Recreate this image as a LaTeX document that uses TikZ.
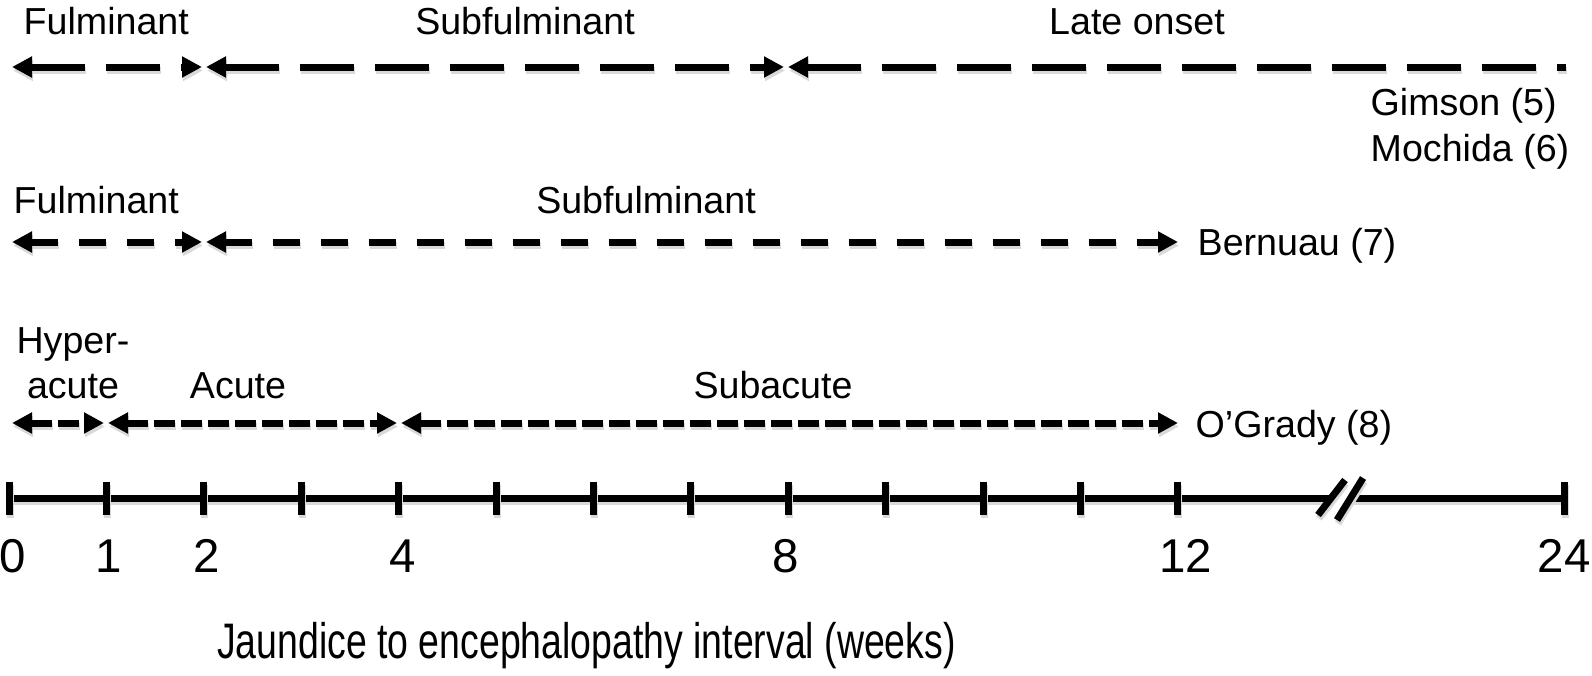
\documentclass[tikz,border=0pt]{standalone}
\usepackage{fontspec}
\setmainfont{Liberation Sans}
\usepackage{graphicx}
\usetikzlibrary{arrows.meta}

\begin{document}
\begin{tikzpicture}[
			x=1mm, y=1mm,
			every node/.style={inner sep=0pt, font=\fontsize{10.7}{12.8}\selectfont},
			seg/.style={line width=0.7mm, >={Triangle[length=2mm,width=2mm]},
					preaction={draw=black!15, line width=0.7mm, dash pattern=#1,
							transform canvas={shift={(0.1mm,-0.35mm)}}},
					dash pattern=#1},
			longdash/.style={seg={on 5.4mm off 2.1mm}},
			middash/.style={seg={on 2.7mm off 2.1mm}},
			shortdash/.style={seg={on 2.1mm off 0.6mm}},
			axisline/.style={line width=0.7mm,
					preaction={draw=black!15, line width=0.7mm,
							transform canvas={shift={(0.1mm,-0.35mm)}}}},
			tick/.style={font=\fontsize{13.5}{16}\selectfont, anchor=base}
		]
		\useasboundingbox (0,0) rectangle (159.2,67.5);

		% Gimson / Mochida
		\coordinate (a0) at (1.2,60.8);
		\coordinate (a2) at (20.4,60.8);
		\coordinate (a8) at (78.6,60.8);
		\coordinate (a24) at (156.6,60.8);
		\draw[longdash, <->, shorten >=0.2mm] (a0) -- (a2);
		\draw[longdash, <->, shorten <=0.2mm, shorten >=0.2mm] (a2) -- (a8);
		\draw[longdash, <-, shorten <=0.2mm] (a8) -- (a24);
		\node[anchor=base west] (fa) at (2.3,64.0) {Fulminant};
		\node[anchor=base] (sa) at (52.5,64.0) {Subfulminant};
		\node[anchor=base] (la) at (113.7,64.0) {Late onset};
		\node[anchor=base west] (gim) at (137.0,56.0) {Gimson (5)};
		\node[anchor=base west] (moc) at (137.0,51.4) {Mochida (6)};

		% Bernuau
		\coordinate (b0) at (1.2,43.3);
		\coordinate (b2) at (20.4,43.3);
		\coordinate (b12) at (117.8,43.3);
		\draw[middash, <->, shorten >=0.2mm] (b0) -- (b2);
		\draw[middash, <->, shorten <=0.2mm] (b2) -- (b12);
		\node[anchor=base west] (fb) at (1.3,46.2) {Fulminant};
		\node[anchor=base] (sb) at (64.6,46.2) {Subfulminant};
		\node[anchor=base west] (ber) at (119.7,42.0) {Bernuau (7)};

		% O'Grady
		\coordinate (c0) at (1.2,25.2);
		\coordinate (c1) at (10.6,25.2);
		\coordinate (c4) at (39.9,25.2);
		\coordinate (c12) at (117.8,25.2);
		\draw[shortdash, <->, shorten >=0.2mm] (c0) -- (c1);
		\draw[shortdash, <->, shorten <=0.2mm, shorten >=0.2mm] (c1) -- (c4);
		\draw[shortdash, <->, shorten <=0.2mm] (c4) -- (c12);
		\node[anchor=base, align=center] (hc) at (7.3,27.7) {Hyper-\\acute};
		\node[anchor=base] (ac) at (23.8,27.7) {Acute};
		\node[anchor=base] (sc) at (77.3,27.7) {Subacute};
		\node[anchor=base west] (ogr) at (119.5,23.8) {O’Grady (8)};

		% axis
		\foreach \i in {0,...,12}
			\coordinate (t\i) at ({0.9+9.74*\i},17.7);
		\coordinate (t24) at (156.4,17.7);
		\coordinate (bk1) at (133.1,17.7);
		\coordinate (bk2) at (135.1,17.7);
		\draw[axisline] (t0) -- (bk1);
		\draw[axisline] (bk2) -- (t24);
		\foreach \i in {0,...,12,24}
			\draw[axisline] (t\i) ++(0,-1.65) -- ++(0,3.3);
		\draw[axisline] (131.8,16.0) -- (134.5,19.5);
		\draw[axisline] (133.7,15.5) -- (136.3,19.7);

		\foreach \i/\dx in {0/0.35,1/0.2,2/0.3,4/0.4,8/-0.3,12/0.8,24/0}
			\node[tick] (n\i) at ([xshift=\dx mm, yshift=-7.4mm]t\i) {\i};

		\node[anchor=base] (title) at (58.65,1.7)
			{\fontsize{14.2}{17}\selectfont\scalebox{0.75}[1]{Jaundice to encephalopathy interval (weeks)}};
	\end{tikzpicture}
\end{document}
